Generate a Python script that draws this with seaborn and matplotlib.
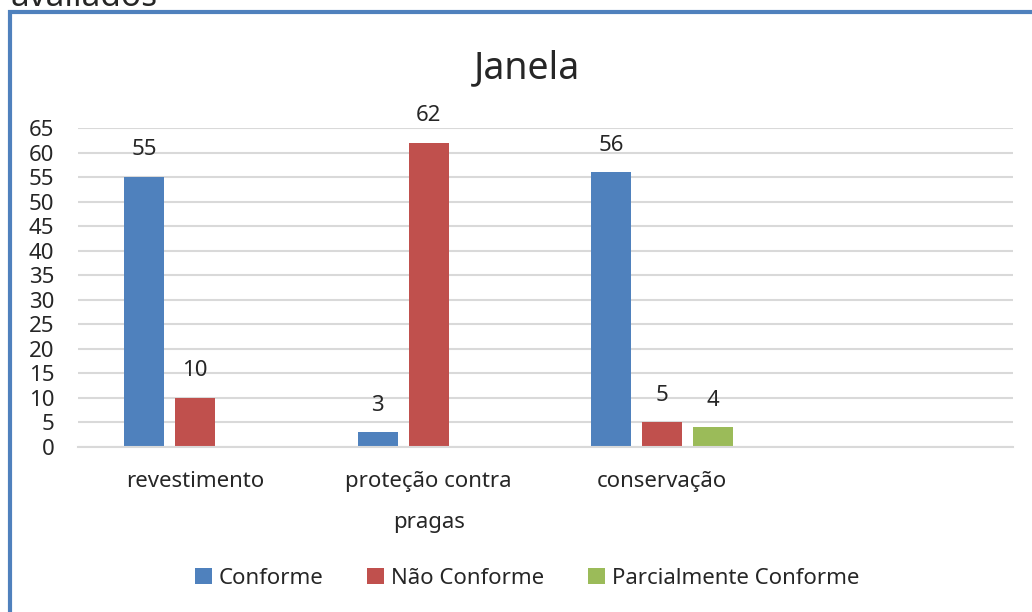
import matplotlib
matplotlib.use("Agg")
import matplotlib.pyplot as plt
import seaborn as sns
import pandas as pd
from matplotlib.patches import Rectangle

categories = ["revestimento", "proteção contra\npragas", "conservação"]
series = ["Conforme", "Não Conforme", "Parcialmente Conforme"]
conforme = [55, 3, 56]
nao_conforme = [10, 62, 5]
parcial = [None, None, 4]
yticks = list(range(0, 70, 5))
colors = ["#4F81BD", "#C0504D", "#9BBB59"]

rows = []
for s, vals in zip(series, [conforme, nao_conforme, parcial]):
    for c, v in zip(categories, vals):
        if v is not None:
            rows.append({"cat": c, "serie": s, "valor": v})
df = pd.DataFrame(rows)

sns.set_theme(style="white")
plt.rcParams["font.family"] = ["Noto Sans", "DejaVu Sans"]

fig = plt.figure(figsize=(10.32, 6.12), dpi=100)
ax = fig.add_axes([78/1032, 1-447/612, (1013-78)/1032, (447-128)/612])

sns.barplot(data=df, x="cat", y="valor", hue="serie", order=categories,
            hue_order=series, palette=colors, width=0.654, gap=0.216,
            saturation=1, ax=ax, legend=True, errorbar=None, linewidth=0)

ax.set_xlim(-0.5, 3.5)
ax.set_ylim(0, 65)
ax.set_yticks(yticks)
ax.set_yticklabels([str(t) for t in yticks], fontsize=16)
ax.tick_params(axis="y", length=0, pad=17)
ax.tick_params(axis="x", length=0, pad=17, labelsize=16)
for lbl in ax.get_xticklabels():
    lbl.set_linespacing(2.3)
ax.set_xlabel("")
ax.set_ylabel("")
ax.yaxis.grid(True, color="#D9D9D9", linewidth=1.5)
ax.set_axisbelow(True)
for side in ["top", "right", "left"]:
    ax.spines[side].set_visible(False)
ax.spines["bottom"].set_color("#D9D9D9")
ax.spines["bottom"].set_linewidth(1.5)

for cont in ax.containers:
    ax.bar_label(cont, fontsize=16, padding=12)

handles, labels = ax.get_legend_handles_labels()
ax.get_legend().remove()
fig.legend(handles, labels, loc="center", bbox_to_anchor=(527/1032, 1-578/612),
           ncol=3, frameon=False, fontsize=16, handlelength=0.75, handleheight=0.75,
           handletextpad=0.3, columnspacing=2.0)

fig.text(527/1032, 1-68/612, "Janela", ha="center", va="center", fontsize=27)
fig.text(10/1032, 1-6/612, "avaliados", ha="left", va="baseline", fontsize=24)

# chart border (left and top visible)
fig.patches.append(Rectangle((10/1032, -0.1), 1.2, 1.1 - 12/612,
                             transform=fig.transFigure, fill=False,
                             edgecolor="#4F81BD", linewidth=3))

fig.savefig("out.png", dpi=100)
